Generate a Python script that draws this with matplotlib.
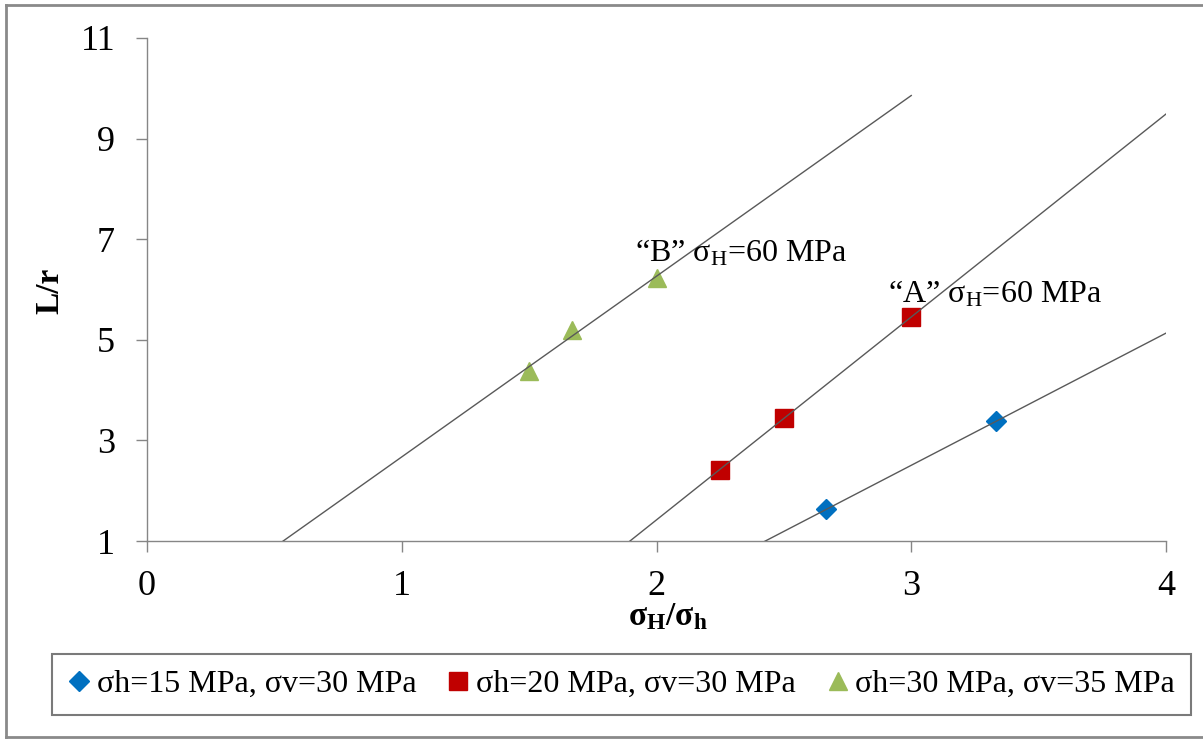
import numpy as np
import matplotlib
matplotlib.use("Agg")
import matplotlib.pyplot as plt
from matplotlib.lines import Line2D

plt.rcParams['font.family'] = ['Liberation Serif', 'DejaVu Serif']
plt.rcParams['mathtext.fontset'] = 'custom'
plt.rcParams['mathtext.rm'] = 'Liberation Serif'
plt.rcParams['mathtext.bf'] = 'Liberation Serif:bold'
plt.rcParams['mathtext.it'] = 'Liberation Serif:italic'

# ---- data ----
series_labels = ['σh=15 MPa, σv=30 MPa', 'σh=20 MPa, σv=30 MPa', 'σh=30 MPa, σv=35 MPa']
x_blue = [2.667, 3.333]
y_blue = [1.63, 3.38]
x_red = [2.25, 2.5, 3.0]
y_red = [2.42, 3.45, 5.45]
x_green = [1.5, 1.667, 2.0]
y_green = [4.38, 5.20, 6.22]
trend_end = [4.0, 4.0, 3.0]   # forward forecast limit of each linear trendline

colors = ['#0070C0', '#C00000', '#9BBB59']
markers = ['D', 's', '^']
msizes = [10, 13, 13]

ann_texts = ['“B” σ$_\\mathregular{H}$=60 MPa', '“A” σ$_\\mathregular{H}$=60 MPa']
ann_x = [1.916, 2.909]
ann_y = [6.55, 5.75]

xticks = [0, 1, 2, 3, 4]
yticks = [1, 3, 5, 7, 9, 11]

W, H = 1203, 740
fig = plt.figure(figsize=(W / 100, H / 100), dpi=100)
ax = fig.add_axes([147 / W, 1 - 541 / H, (1166 - 147) / W, (541 - 38) / H])

xs = [x_blue, x_red, x_green]
ys = [y_blue, y_red, y_green]
handles = []
for i in range(3):
    h, = ax.plot(xs[i], ys[i], linestyle='none', marker=markers[i], ms=msizes[i],
                 color=colors[i], markeredgecolor=colors[i], zorder=2,
                 label=series_labels[i])
    handles.append(h)
    k, b = np.polyfit(xs[i], ys[i], 1)
    xl = np.array([0.0, trend_end[i]])
    ax.plot(xl, k * xl + b, color='#595959', lw=1.0, zorder=3)

for t, x, y in zip(ann_texts, ann_x, ann_y):
    ax.text(x, y, t, fontsize=23, ha='left', va='baseline', zorder=4)

ax.set_xlim(0, 4)
ax.set_ylim(1, 11)
ax.set_xticks(xticks)
ax.set_yticks(yticks)
for s in ['top', 'right']:
    ax.spines[s].set_visible(False)
for s in ['left', 'bottom']:
    ax.spines[s].set_color('#868686')
    ax.spines[s].set_linewidth(1.0)
ax.tick_params(axis='both', direction='out', length=8, width=1.0, color='#868686',
               labelsize=26)
ax.tick_params(axis='x', pad=13)
ax.tick_params(axis='y', pad=15)

fig.text(668 / W, 1 - 625 / H, 'σ$_\\mathbf{H}$/σ$_\\mathbf{h}$', fontsize=24,
         fontweight='bold', ha='center', va='baseline')
fig.text(50 / W, 1 - 291 / H, 'L/r', fontsize=24, fontweight='bold',
         rotation=90, ha='center', va='center')

leg = fig.legend(handles=handles, loc='center', ncol=3, mode='expand',
                 bbox_to_anchor=(52 / W, 1 - 717 / H, (1191 - 52) / W, 65 / H),
                 fontsize=23, frameon=True, fancybox=False, borderpad=0.5,
                 handlelength=0.7, handletextpad=0.2, borderaxespad=0,
                 columnspacing=1.0)
leg.get_frame().set_edgecolor('#595959')
leg.get_frame().set_linewidth(1.5)

# outer chart border
border_kw = dict(color='#8a8a8a', lw=2.0, transform=fig.transFigure, clip_on=False)
fig.add_artist(Line2D([6 / W, 6 / W], [1 - 737 / H, 1 - 5 / H], **border_kw))
fig.add_artist(Line2D([6 / W, 1.0], [1 - 5 / H, 1 - 5 / H], **border_kw))
fig.add_artist(Line2D([6 / W, 1.0], [1 - 737 / H, 1 - 737 / H], **border_kw))

fig.savefig('out.png', dpi=100)
